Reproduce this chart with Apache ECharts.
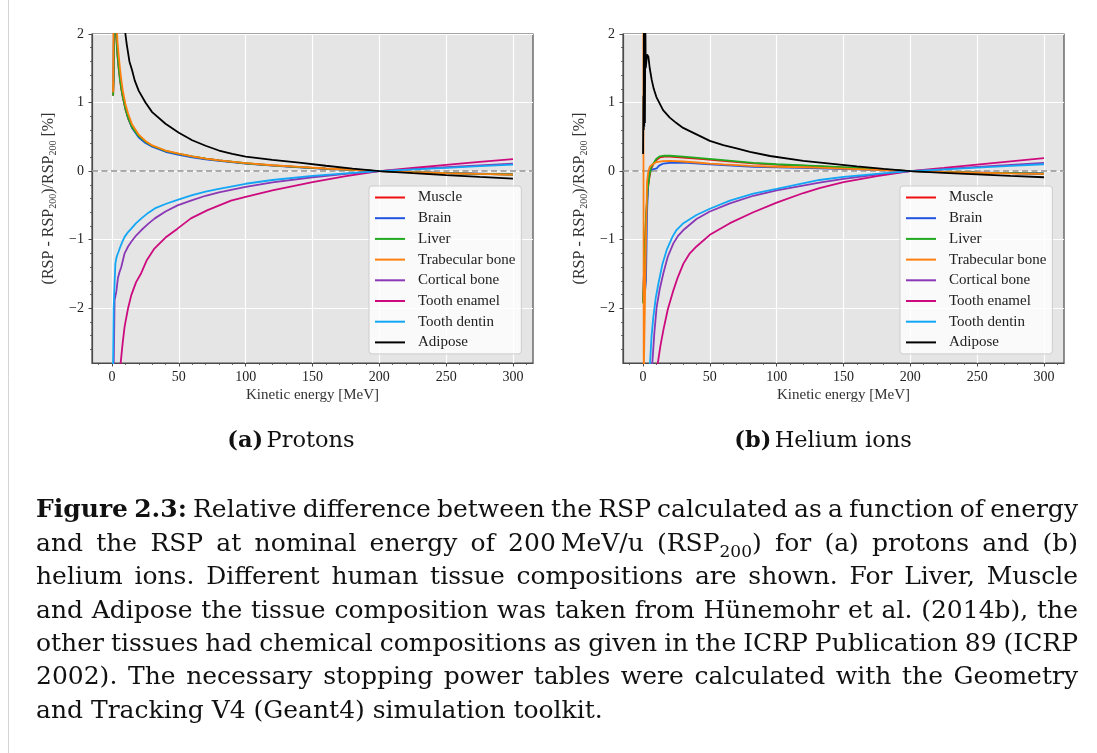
<!DOCTYPE html>
<html><head><meta charset="utf-8">
<script src="https://cdn.jsdelivr.net/npm/echarts@6/dist/echarts.min.js"></script>
<style>html,body{margin:0;padding:0;background:#fff}#c{width:1097px;height:753px}</style>
</head><body><div id="c"></div>
<script>
// ---------------- data ----------------
const tissueNames = ['Muscle','Brain','Liver','Trabecular bone','Cortical bone','Tooth enamel','Tooth dentin','Adipose'];
const tissueColors = ['#f01010','#1f55e0','#1faa1f','#ff7f0e','#8a38b5','#cc0a7e','#12a6f5','#000000'];
const xMajorTicks = [0,50,100,150,200,250,300];
const xMinorTicks = [-10,10,20,30,40,60,70,80,90,110,120,130,140,160,170,180,190,210,220,230,240,260,270,280,290,310];
const yMajorTicks = [-2,-1,0,1,2];
const yMinorTicks = [-2.6,-2.4,-2.2,-1.8,-1.6,-1.4,-1.2,-0.8,-0.6,-0.4,-0.2,0.2,0.4,0.6,0.8,1.2,1.4,1.6,1.8];
const panelTitles = [['(a)','Protons'],['(b)','Helium ions']];

// Protons
const protonMuscle = [[0.8,1.1],[1.2,1.3],[1.6,2.7],[3,2.0],[4,1.7],[5,1.49],[6,1.32],[7,1.19],[8,1.08],[10,0.9],[12,0.77],[15,0.635],[20,0.505],[25,0.425],[30,0.365],[40,0.292],[50,0.247],[60,0.211],[70,0.18],[80,0.155],[100,0.113],[120,0.083],[140,0.058],[160,0.036],[180,0.017],[200,0],[225,-0.015],[250,-0.029],[275,-0.04],[300,-0.05]];
const protonBrain = [[1,1.3],[1.5,2.7],[3,2.1],[4,1.78],[5,1.55],[6,1.37],[7,1.23],[8,1.11],[10,0.92],[12,0.78],[15,0.63],[20,0.49],[25,0.41],[30,0.355],[40,0.282],[50,0.238],[60,0.2],[70,0.172],[80,0.148],[100,0.108],[120,0.079],[140,0.055],[160,0.034],[180,0.016],[200,0],[225,-0.014],[250,-0.027],[275,-0.038],[300,-0.048]];
const protonLiver = [[0.8,1.1],[1.2,1.35],[1.6,2.7],[3,2.05],[4,1.72],[5,1.5],[6,1.33],[7,1.2],[8,1.09],[10,0.91],[12,0.78],[15,0.64],[20,0.51],[25,0.43],[30,0.37],[40,0.295],[50,0.25],[60,0.213],[70,0.182],[80,0.156],[100,0.114],[120,0.084],[140,0.059],[160,0.037],[180,0.017],[200,0],[225,-0.015],[250,-0.029],[275,-0.04],[300,-0.05]];
const protonTrabecular = [[0.8,1.15],[1.2,2.8],[3,2.4],[4,1.9],[5,1.68],[6,1.48],[7,1.32],[8,1.18],[10,0.98],[12,0.84],[15,0.68],[20,0.53],[25,0.44],[30,0.375],[40,0.3],[50,0.255],[60,0.215],[70,0.183],[80,0.157],[100,0.115],[120,0.085],[140,0.06],[160,0.038],[180,0.018],[200,0],[225,-0.016],[250,-0.03],[275,-0.041],[300,-0.052]];
const protonCortical = [[1.2,-2.9],[1.9,-1.88],[3.2,-1.76],[4.4,-1.56],[5.5,-1.48],[6.9,-1.4],[9.4,-1.2],[12,-1.1],[14.4,-1.03],[18,-0.94],[22,-0.86],[27,-0.77],[32,-0.69],[40,-0.59],[49,-0.5],[59,-0.43],[70,-0.36],[80,-0.31],[100,-0.23],[120,-0.165],[150,-0.09],[175,-0.04],[200,0],[225,0.03],[250,0.056],[275,0.083],[300,0.108]];
const protonEnamel = [[5.5,-3.2],[6.4,-2.81],[8,-2.5],[9.4,-2.27],[12,-2.0],[14.4,-1.81],[18,-1.62],[21.8,-1.49],[26,-1.3],[31.7,-1.13],[40,-0.97],[49,-0.84],[59,-0.69],[71.5,-0.57],[89,-0.43],[100,-0.375],[120,-0.28],[150,-0.16],[175,-0.075],[200,0],[225,0.045],[250,0.09],[275,0.133],[300,0.175]];
const protonDentin = [[0.7,-2.9],[1.2,-2.0],[1.9,-1.64],[2.5,-1.35],[3.2,-1.27],[4,-1.22],[5,-1.17],[5.7,-1.13],[7.5,-1.04],[9.4,-0.96],[12,-0.89],[14.4,-0.84],[18,-0.76],[22,-0.69],[27,-0.61],[32,-0.545],[40,-0.48],[49,-0.42],[60,-0.35],[70,-0.3],[80,-0.26],[100,-0.185],[120,-0.13],[150,-0.07],[175,-0.032],[200,0],[225,0.025],[250,0.048],[275,0.072],[300,0.095]];
const protonAdipose = [[8,2.6],[10,2.0],[11,1.85],[13,1.6],[15,1.47],[17,1.32],[20,1.17],[25,1.0],[30,0.86],[40,0.69],[50,0.56],[60,0.45],[70,0.37],[80,0.3],[90,0.25],[100,0.21],[120,0.162],[140,0.122],[160,0.078],[180,0.036],[200,0],[225,-0.03],[250,-0.058],[275,-0.085],[300,-0.11]];

// Helium ions
const heliumMuscle = [[0,-1.9],[1,-1.3],[2.2,-0.7],[3.5,-0.28],[4.7,-0.1],[6,0.03],[7.7,0.1],[10,0.16],[12.7,0.2],[16,0.21],[20,0.21],[30,0.198],[45,0.175],[60,0.15],[82.5,0.113],[100,0.095],[132,0.069],[160,0.042],[180,0.021],[200,0],[225,-0.012],[250,-0.022],[275,-0.031],[300,-0.039]];
const heliumBrain = [[1.5,-1.75],[2.2,-1.6],[3,-0.6],[4,-0.1],[5,0.0],[6,0.02],[8,0.03],[10.2,0.04],[12,0.08],[15.2,0.11],[20,0.12],[32.7,0.12],[50,0.1],[82.5,0.063],[100,0.055],[132,0.04],[160,0.025],[180,0.012],[200,0],[225,-0.01],[250,-0.02],[275,-0.028],[300,-0.035]];
const heliumLiver = [[0,-1.93],[1,-1.3],[2.2,-0.67],[3.5,-0.25],[4.7,-0.08],[6,0.05],[7.7,0.11],[10,0.18],[12.7,0.215],[16,0.225],[20,0.224],[30,0.21],[45,0.185],[60,0.16],[82.5,0.12],[100,0.1],[132,0.073],[160,0.045],[180,0.022],[200,0],[225,-0.012],[250,-0.022],[275,-0.03],[300,-0.038]];
const heliumTrabecular = [[0.2,2.6],[0.5,-3.0],[1.3,-3.0],[2.2,-1.0],[3,-0.15],[4,0.0],[5,0.06],[6.5,0.09],[8,0.11],[10,0.13],[15,0.146],[20,0.15],[30,0.14],[40,0.125],[50,0.11],[60,0.098],[80,0.075],[100,0.063],[130,0.05],[160,0.03],[180,0.015],[200,0],[225,-0.012],[250,-0.022],[275,-0.032],[300,-0.04]];
const heliumCortical = [[5.5,-3.3],[6.9,-2.81],[8.5,-2.35],[10.2,-1.98],[12.5,-1.72],[15.2,-1.49],[18.5,-1.25],[22.7,-1.055],[26,-0.95],[30.2,-0.86],[40,-0.7],[50,-0.59],[65,-0.47],[82.5,-0.36],[100,-0.28],[132,-0.17],[150,-0.115],[175,-0.05],[200,0],[225,0.03],[250,0.06],[275,0.09],[300,0.12]];
const heliumEnamel = [[9.5,-3.3],[11,-2.81],[13,-2.55],[15.2,-2.32],[18.5,-2.02],[22.7,-1.74],[26,-1.55],[30.2,-1.35],[35,-1.2],[40,-1.1],[50,-0.93],[65,-0.76],[82.5,-0.6],[100,-0.46],[120,-0.32],[132,-0.25],[150,-0.16],[175,-0.075],[200,0],[225,0.047],[250,0.095],[275,0.142],[300,0.19]];
const heliumDentin = [[4.3,-3.3],[5.2,-2.81],[6.4,-2.4],[7.7,-2.13],[9.5,-1.85],[11.5,-1.64],[14.5,-1.36],[17.7,-1.15],[22,-0.96],[25,-0.86],[30.2,-0.76],[40,-0.64],[50,-0.55],[65,-0.43],[82.5,-0.33],[100,-0.26],[132,-0.13],[150,-0.085],[175,-0.04],[200,0],[225,0.025],[250,0.05],[275,0.075],[300,0.1]];
const heliumAdipose = [[0,0.25],[0.3,1.1],[0.5,0.6],[0.7,2.6],[0.9,0.65],[1.1,2.6],[1.4,0.7],[1.7,2.2],[2,1.5],[3,1.7],[4,1.67],[5,1.5],[6.5,1.33],[8,1.2],[10,1.08],[15,0.89],[20,0.78],[25,0.7],[30,0.63],[40,0.535],[50,0.44],[60,0.38],[70,0.33],[80,0.28],[95,0.22],[120,0.15],[140,0.11],[160,0.07],[180,0.033],[200,0],[225,-0.025],[250,-0.048],[275,-0.07],[300,-0.09]];

const captionLines = [
  '*Figure *2.3: Relative difference between the RSP calculated as a function of energy',
  'and the RSP at nominal energy of 200\u2009MeV/u (RSP_{200}) for (a) protons and (b)',
  'helium ions. Different human tissue compositions are shown. For Liver, Muscle',
  'and Adipose the tissue composition was taken from Hünemohr et al. (2014b), the',
  'other tissues had chemical compositions as given in the ICRP Publication 89 (ICRP',
  '2002). The necessary stopping power tables were calculated with the Geometry',
  'and Tracking V4 (Geant4) simulation toolkit.'
];

// ---------------- layout / style ----------------
const F = 'Liberation Serif';
const panels = [
  {left:92, data:[protonMuscle,protonBrain,protonLiver,protonTrabecular,protonCortical,protonEnamel,protonDentin,protonAdipose], legendLeft:369, titleX:291},
  {left:623, data:[heliumMuscle,heliumBrain,heliumLiver,heliumTrabecular,heliumCortical,heliumEnamel,heliumDentin,heliumAdipose], legendLeft:900, titleX:823}
];
const fmtY = v => v < 0 ? '\u2212' + Math.abs(v) : String(v);

const grid = [], xAxis = [], yAxis = [], series = [], legend = [];
panels.forEach((p, gi) => {
  grid.push({left:p.left, top:34, width:441, height:329, show:true, backgroundColor:'#e5e5e5', borderColor:'#4a4a4a', borderWidth:1.2, containLabel:false});
  xAxis.push({
    type:'value', gridIndex:gi, min:-15, max:315, position:'bottom',
    name:'Kinetic energy [MeV]', nameLocation:'middle', nameGap:25,
    nameTextStyle:{fontFamily:F, fontSize:15, color:'#333'},
    axisLine:{show:true, onZero:false, lineStyle:{color:'#4a4a4a', width:1.2}},
    axisTick:{show:true, customValues:xMajorTicks, length:3.5, lineStyle:{color:'#4a4a4a', width:1}},
    axisLabel:{customValues:xMajorTicks, margin:7, fontFamily:F, fontSize:14, color:'#222'},
    splitLine:{show:true, lineStyle:{color:'#ffffff', width:1.2}}
  });
  xAxis.push({
    type:'value', gridIndex:gi, min:-15, max:315, position:'bottom',
    axisLine:{show:false, onZero:false}, axisLabel:{show:false}, splitLine:{show:false},
    axisTick:{show:true, customValues:xMinorTicks, length:2, lineStyle:{color:'#4a4a4a', width:0.8}}
  });
  yAxis.push({
    type:'value', gridIndex:gi, min:-2.8, max:2, position:'left',
    name:'(RSP - RSP{s|200})/RSP{s|200} [%]', nameLocation:'middle', nameRotate:90, nameGap:34,
    nameTextStyle:{fontFamily:F, fontSize:16, color:'#333', lineHeight:18,
      rich:{s:{fontFamily:F, fontSize:10, color:'#333', lineHeight:10, verticalAlign:'bottom'}}},
    axisLine:{show:true, onZero:false, lineStyle:{color:'#4a4a4a', width:1.2}},
    axisTick:{show:true, customValues:yMajorTicks, length:3.5, lineStyle:{color:'#4a4a4a', width:1}},
    axisLabel:{customValues:yMajorTicks, margin:8, fontFamily:F, fontSize:14, color:'#222', formatter:fmtY},
    splitLine:{show:true, lineStyle:{color:'#ffffff', width:1.2}}
  });
  yAxis.push({
    type:'value', gridIndex:gi, min:-2.8, max:2, position:'left',
    axisLine:{show:false, onZero:false}, axisLabel:{show:false}, splitLine:{show:false},
    axisTick:{show:true, customValues:yMinorTicks, length:2, lineStyle:{color:'#4a4a4a', width:0.8}}
  });
  p.data.forEach((d, i) => {
    const s = {
      name:tissueNames[i], type:'line', xAxisIndex:gi*2, yAxisIndex:gi*2, data:d,
      symbol:'none', showSymbol:false, clip:true, z:3+i, animation:false,
      lineStyle:{width:1.8, color:tissueColors[i]}, itemStyle:{color:tissueColors[i]}
    };
    if (i === tissueNames.length - 1) {
      s.markLine = {silent:true, symbol:'none', animation:false, label:{show:false},
        lineStyle:{color:'#939393', type:[6,3.5], width:1.6}, data:[{yAxis:0}]};
    }
    series.push(s);
  });
  legend.push({
    data:tissueNames, orient:'vertical', left:p.legendLeft, top:186, selectedMode:false,
    icon:'rect', itemWidth:30, itemHeight:2, itemGap:5.7,
    backgroundColor:'rgba(255,255,255,0.8)', borderColor:'#cccccc', borderWidth:1, borderRadius:3,
    padding:[4,6,4,6],
    textStyle:{fontFamily:F, fontSize:15, color:'#222', lineHeight:15, padding:[0,0,0,8]}
  });
});

// ---------------- caption (graphic text) ----------------
const CAP_FONT = 'DejaVu Serif', CAP_SIZE = 25, SUB_SIZE = 17;
const CAP_LEFT = 36, CAP_RIGHT = 1078;
const lineY = [510, 544, 577, 611, 644, 677, 711];
const mctx = document.createElement('canvas').getContext('2d');
function parseWord(w){
  let bold = false;
  if (w[0] === '*') { bold = true; w = w.slice(1); }
  const segs = []; const re = /_\{([^}]*)\}/g; let last = 0, m;
  while ((m = re.exec(w))) {
    if (m.index > last) segs.push({t:w.slice(last, m.index), sub:false, bold});
    segs.push({t:m[1], sub:true, bold}); last = re.lastIndex;
  }
  if (last < w.length) segs.push({t:w.slice(last), sub:false, bold});
  return segs;
}
function segW(s){ mctx.font = (s.bold?'bold ':'') + (s.sub?SUB_SIZE:CAP_SIZE) + 'px "' + CAP_FONT + '"'; return mctx.measureText(s.t).width; }
function richStr(segs){ return segs.map(s => '{' + (s.sub?'s':(s.bold?'b':'n')) + '|' + s.t + '}').join(''); }
const capRich = {
  n:{fontFamily:CAP_FONT, fontSize:CAP_SIZE, fill:'#111', color:'#111', lineHeight:34},
  b:{fontFamily:CAP_FONT, fontSize:CAP_SIZE, fontWeight:'bold', fill:'#111', color:'#111', lineHeight:34},
  s:{fontFamily:CAP_FONT, fontSize:SUB_SIZE, fill:'#111', color:'#111', lineHeight:17, verticalAlign:'bottom'}
};
const graphics = [];
graphics.push({type:'line', silent:true, shape:{x1:8.5, y1:0, x2:8.5, y2:753}, style:{stroke:'#d4d4d4', lineWidth:1}});
mctx.font = CAP_SIZE + 'px "' + CAP_FONT + '"';
const spaceW = mctx.measureText(' ').width;
captionLines.forEach((line, li) => {
  const words = line.split(' ').filter(Boolean).map(parseWord);
  const widths = words.map(ws => ws.reduce((a, s) => a + segW(s), 0));
  const total = widths.reduce((a, b) => a + b, 0);
  const justify = li < captionLines.length - 1;
  const gap = justify ? (CAP_RIGHT - CAP_LEFT - total) / (words.length - 1) : spaceW;
  let x = CAP_LEFT;
  words.forEach((ws, wi) => {
    graphics.push({type:'text', silent:true, x:x, y:lineY[li],
      style:{text:richStr(ws), rich:capRich, align:'left', verticalAlign:'middle', fill:'#111'}});
    x += widths[wi] + gap;
  });
});
panels.forEach((p, gi) => {
  graphics.push({type:'text', silent:true, x:p.titleX, y:441,
    style:{text:'{b|' + panelTitles[gi][0] + '} {n|' + panelTitles[gi][1] + '}', align:'center', verticalAlign:'middle',
      rich:{b:{fontFamily:CAP_FONT, fontSize:22.5, fontWeight:'bold', fill:'#111'}, n:{fontFamily:CAP_FONT, fontSize:22.5, fill:'#111'}}}});
});

const chart = echarts.init(document.getElementById('c'), null, {renderer:'canvas'});
chart.setOption({animation:false, backgroundColor:'#ffffff', grid, xAxis, yAxis, series, legend, graphic:graphics});
</script>
</body></html>
